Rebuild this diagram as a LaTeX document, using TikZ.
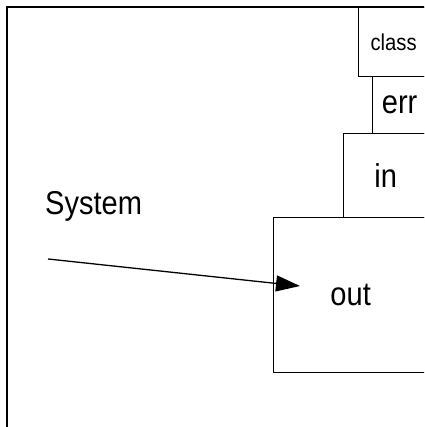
\documentclass[tikz,border=0pt]{standalone}
\usepackage{fontspec}
\setmainfont{Liberation Sans}
\newfontfamily\narrowsans[FakeStretch=0.88]{Liberation Sans}
\usetikzlibrary{calc}
\usetikzlibrary{arrows.meta}
\newcommand{\bigtxt}{\narrowsans\fontsize{33}{36}\selectfont}
\newcommand{\smalltxt}{\narrowsans\fontsize{23}{26}\selectfont}

\begin{document}
\begin{tikzpicture}[%
    x=1pt, y=1pt,
    block/.style={
      rectangle,
      draw=black,
      line width=1.3pt,
      anchor=north west,
      inner sep=0pt,
      align=center,
      font=\bigtxt
    },
    >={Triangle[length=24pt,width=16pt]}
    ]
    \useasboundingbox (0,0) rectangle (424,427);
    \clip (0,0) rectangle (424,427);
    % outer frame, cut off at the right and at the bottom
    \draw[line width=2pt] (7,-10) rectangle (440,420);
    \draw (358,420) node[block,minimum width=70pt,minimum height=69pt,font=\smalltxt] (cls) {class};
    \draw (372,351) node[block,minimum width=54pt,minimum height=57pt] (err) {err};
    \draw (343,294) node[block,minimum width=84pt,minimum height=84pt] (inp) {in};
    \draw (273,210) node[block,minimum width=154pt,minimum height=155pt] (out) {out};
    \draw (45,212) node[anchor=base west,inner sep=0pt,font=\bigtxt] (sys) {System};

    \coordinate (src) at (48,168);
    \coordinate (dst) at (300,141);
    \draw [->,line width=1.3pt] (src) -- (dst);
  \end{tikzpicture}
\end{document}
